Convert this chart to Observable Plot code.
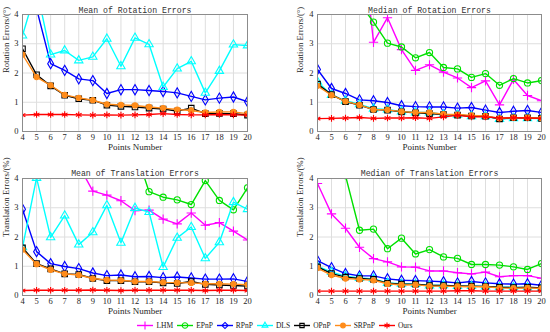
<!DOCTYPE html>
<html><head><meta charset="utf-8">
<script src="https://cdn.jsdelivr.net/npm/d3@7"></script>
<script src="https://cdn.jsdelivr.net/npm/@observablehq/plot@0.6"></script>
<style>
body{margin:0;background:#fff;}
#chart{position:relative;width:550px;height:332px;overflow:hidden;background:#fff;}
.panel{position:absolute;}
#legend{position:absolute;left:0;top:320px;width:550px;height:10px;display:flex;justify-content:center;align-items:center;font-family:"Liberation Serif",serif;font-size:7.5px;color:#222;}
#legend .item{display:flex;align-items:center;margin:0 2px;}
#legend svg{margin-right:3px;}
</style></head><body><div id="chart"><div id="legend"></div></div><script>
const points = [4,5,6,7,8,9,10,11,12,13,14,15,16,17,18,19,20];
const yTicks = [0,1,2,3,4];
const methods = ["LHM","EPnP","RPnP","DLS","OPnP","SRPnP","Ours"];
const colors  = ["#ff00ff","#00e000","#0000ff","#00ffff","#000000","#ff8c1a","#ff0000"];
const symbols = ["plus","circle","diamond","triangle","square","circle","asterisk"];
const filled  = [false,false,false,false,false,true,false];

const meanRotation = {
  LHM:   [9.5, 8.8, 8.1, 7.6, 7.2, 6.9, 6.5, 6.3, 6.0, 5.8, 5.6, 5.4, 5.3, 5.1, 5.0, 4.9, 4.7],
  EPnP:  [16, 14.5, 13, 12, 11.2, 10.5, 9.8, 9.3, 8.8, 8.4, 8.0, 7.7, 7.4, 7.1, 6.9, 6.7, 6.5],
  RPnP:  [7.0, 4.2, 2.32, 2.09, 1.80, 1.74, 1.30, 1.43, 1.43, 1.40, 1.37, 1.32, 1.20, 1.08, 1.14, 1.18, 1.02],
  DLS:   [3.28, 4.9, 2.63, 2.77, 2.43, 2.55, 3.17, 2.23, 3.20, 2.98, 1.52, 2.15, 2.40, 1.32, 2.07, 2.97, 2.94],
  OPnP:  [2.83, 1.94, 1.56, 1.24, 1.12, 1.07, 0.90, 0.86, 0.84, 0.80, 0.77, 0.70, 0.80, 0.61, 0.62, 0.61, 0.56],
  SRPnP: [2.63, 1.86, 1.58, 1.25, 1.15, 1.07, 0.93, 0.91, 0.89, 0.84, 0.80, 0.75, 0.72, 0.65, 0.67, 0.67, 0.61],
  Ours:  [0.56, 0.58, 0.58, 0.58, 0.57, 0.56, 0.57, 0.56, 0.57, 0.58, 0.61, 0.58, 0.57, 0.57, 0.58, 0.57, 0.56]
};
const medianRotation = {
  LHM:   [10, 9.5, 8.5, 7.5, 3.05, 3.89, 2.80, 2.09, 2.28, 2.03, 1.83, 1.50, 1.73, 0.91, 1.78, 1.23, 1.05],
  EPnP:  [9.0, 7.5, 6.0, 4.4, 3.74, 3.02, 2.89, 2.52, 2.70, 2.19, 2.14, 1.85, 1.98, 1.58, 1.81, 1.66, 1.74],
  RPnP:  [2.12, 1.47, 1.30, 1.08, 1.05, 0.99, 0.88, 0.85, 0.84, 0.84, 0.80, 0.82, 0.73, 0.65, 0.69, 0.72, 0.65],
  DLS:   [1.70, 1.25, 1.05, 0.93, 0.78, 0.75, 0.68, 0.65, 0.65, 0.58, 0.57, 0.52, 0.52, 0.43, 0.45, 0.45, 0.44],
  OPnP:  [1.62, 1.26, 1.02, 0.90, 0.75, 0.73, 0.67, 0.64, 0.61, 0.58, 0.56, 0.53, 0.52, 0.43, 0.47, 0.47, 0.45],
  SRPnP: [1.56, 1.24, 1.03, 0.91, 0.75, 0.74, 0.68, 0.65, 0.65, 0.59, 0.58, 0.55, 0.53, 0.45, 0.47, 0.47, 0.45],
  Ours:  [0.44, 0.45, 0.46, 0.48, 0.45, 0.46, 0.46, 0.47, 0.45, 0.50, 0.55, 0.50, 0.50, 0.46, 0.47, 0.46, 0.45]
};
const meanTranslation = {
  LHM:   [8.0, 6.8, 5.9, 5.1, 4.45, 3.57, 3.43, 3.24, 2.90, 2.92, 2.61, 2.45, 2.82, 2.40, 2.49, 2.20, 1.90],
  EPnP:  [12, 10.5, 9.2, 8.0, 7.1, 6.5, 5.9, 5.4, 5.0, 3.55, 3.36, 3.27, 3.11, 3.93, 3.25, 2.93, 3.68],
  RPnP:  [2.95, 1.50, 1.09, 0.99, 0.92, 0.77, 0.68, 0.70, 0.64, 0.65, 0.61, 0.63, 0.60, 0.56, 0.56, 0.57, 0.48],
  DLS:   [1.65, 4.02, 1.99, 2.73, 1.74, 2.16, 3.08, 1.80, 2.99, 2.85, 0.97, 1.97, 2.34, 1.27, 1.82, 3.19, 2.95],
  OPnP:  [1.63, 1.09, 0.91, 0.74, 0.72, 0.58, 0.51, 0.51, 0.47, 0.47, 0.43, 0.41, 0.48, 0.38, 0.36, 0.34, 0.32],
  SRPnP: [1.57, 1.07, 0.88, 0.74, 0.70, 0.58, 0.53, 0.52, 0.48, 0.48, 0.45, 0.44, 0.43, 0.40, 0.40, 0.39, 0.37],
  Ours:  [0.17, 0.18, 0.18, 0.18, 0.18, 0.19, 0.18, 0.17, 0.18, 0.18, 0.18, 0.18, 0.18, 0.17, 0.18, 0.18, 0.17]
};
const medianTranslation = {
  LHM:   [3.83, 2.79, 2.30, 1.65, 1.26, 1.15, 0.98, 0.97, 0.84, 0.84, 0.78, 0.74, 0.80, 0.64, 0.68, 0.68, 0.59],
  EPnP:  [9.0, 6.5, 4.1, 2.23, 2.27, 1.60, 1.96, 1.42, 1.57, 1.32, 1.27, 1.06, 1.06, 1.04, 0.98, 0.89, 1.09],
  RPnP:  [1.19, 0.95, 0.75, 0.67, 0.67, 0.57, 0.52, 0.51, 0.49, 0.47, 0.43, 0.48, 0.43, 0.40, 0.39, 0.40, 0.35],
  DLS:   [1.00, 0.80, 0.66, 0.60, 0.57, 0.43, 0.40, 0.39, 0.34, 0.35, 0.32, 0.32, 0.31, 0.28, 0.28, 0.27, 0.25],
  OPnP:  [0.98, 0.75, 0.63, 0.58, 0.55, 0.42, 0.39, 0.39, 0.34, 0.34, 0.33, 0.32, 0.31, 0.28, 0.27, 0.28, 0.26],
  SRPnP: [0.94, 0.70, 0.58, 0.55, 0.52, 0.40, 0.36, 0.37, 0.32, 0.32, 0.31, 0.30, 0.30, 0.26, 0.25, 0.26, 0.24],
  Ours:  [0.15, 0.15, 0.15, 0.15, 0.15, 0.15, 0.15, 0.15, 0.15, 0.15, 0.16, 0.16, 0.15, 0.15, 0.15, 0.15, 0.15]
};

function panel(values, o) {
  const series = [];
  methods.forEach((m, i) => {
    const rows = values[m].map((v, j) => ({x: points[j], y: v}));
    series.push(Plot.line(rows, {x: "x", y: "y", stroke: colors[i], strokeWidth: 1.4, clip: true}));
    series.push(Plot.dot(rows, {x: "x", y: "y", symbol: symbols[i], r: filled[i] ? 2.6 : 3.1,
      stroke: colors[i], strokeWidth: 1.1, fill: filled[i] ? colors[i] : "none", clip: true}));
  });
  const svg = Plot.plot({
    width: 275, height: o.height,
    marginTop: o.mt, marginBottom: o.mb, marginLeft: o.ml, marginRight: o.mr,
    style: {fontFamily: '"Liberation Serif", serif', fontSize: "8.5px", color: "#262626", background: "transparent", overflow: "visible"},
    x: {domain: [4, 20], label: null},
    y: {domain: [0, 4], label: null},
    marks: [
      Plot.gridX(points, {stroke: "#dedede", strokeOpacity: 1}),
      Plot.gridY(yTicks, {stroke: "#dedede", strokeOpacity: 1}),
      ...series,
      Plot.frame({stroke: "#8c8c8c"}),
      Plot.axisX(points, {tickSize: 0, tickPadding: 2, label: null, fontSize: 8.5}),
      Plot.axisY(yTicks, {tickSize: 0, tickPadding: 4, label: null, fontSize: 8.5}),
      Plot.text([o.title], {frameAnchor: "top", dy: o.titleDy, text: d => d, fontFamily: '"Liberation Mono", monospace', fontSize: 8.2, fill: "#333"}),
      Plot.text(["Points Number"], {frameAnchor: "bottom", dy: o.xlabDy, text: d => d, fontSize: 9, fill: "#262626"}),
      Plot.text([o.ylabel], {frameAnchor: "left", dx: o.ylabDx, rotate: -90, text: d => d, fontSize: 8.8, fill: "#262626"})
    ]
  });
  svg.classList.add("panel");
  svg.style.left = o.left + "px";
  svg.style.top = o.top + "px";
  document.getElementById("chart").appendChild(svg);
}

panel(meanRotation,      {title: "Mean of Rotation Errors",      ylabel: "Rotation Errors/(°)",    left: 0,   top: 0,   height: 160, mt: 14, mb: 29, ml: 22, mr: 28, titleDy: -7, xlabDy: 18, ylabDx: -16});
panel(medianRotation,    {title: "Median of Rotation Errors",    ylabel: "Rotation Errors/(°)",    left: 275, top: 0,   height: 160, mt: 14, mb: 29, ml: 42, mr: 9,  titleDy: -7, xlabDy: 18, ylabDx: -17});
panel(meanTranslation,   {title: "Mean of Translation Errors",   ylabel: "Translation Errors/(%)", left: 0,   top: 160, height: 172, mt: 18, mb: 37, ml: 22, mr: 28, titleDy: -8, xlabDy: 18, ylabDx: -16});
panel(medianTranslation, {title: "Median of Translation Errors", ylabel: "Translation Errors/(%)", left: 275, top: 160, height: 172, mt: 18, mb: 37, ml: 42, mr: 9,  titleDy: -8, xlabDy: 18, ylabDx: -17});

// legend
const symMap = {plus: d3.symbolPlus, circle: d3.symbolCircle, diamond: d3.symbolDiamond2, triangle: d3.symbolTriangle2, square: d3.symbolSquare2, asterisk: d3.symbolAsterisk};
const legend = d3.select("#legend");
methods.forEach((m, i) => {
  const item = legend.append("div").attr("class", "item");
  const s = item.append("svg").attr("width", 16).attr("height", 9);
  s.append("line").attr("x1", 0).attr("x2", 16).attr("y1", 4.5).attr("y2", 4.5).attr("stroke", colors[i]).attr("stroke-width", 1.4);
  s.append("path").attr("transform", "translate(8,4.5)")
    .attr("d", d3.symbol(symMap[symbols[i]], filled[i] ? 18 : 24)())
    .attr("stroke", colors[i]).attr("stroke-width", 1.1)
    .attr("fill", filled[i] ? colors[i] : "none");
  item.append("span").text(m);
});
</script></body></html>
